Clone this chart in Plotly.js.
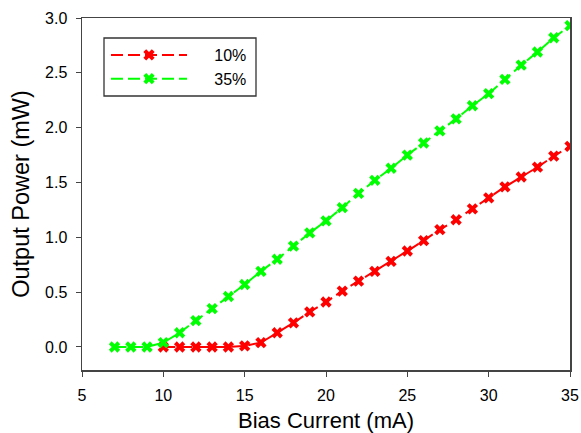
<!DOCTYPE html>
<html>
<head>
<meta charset="utf-8">
<script src="https://cdn.plot.ly/plotly-3.0.1.min.js"></script>
<style>html,body{margin:0;padding:0;background:#fff;}#chart{width:581px;height:433px;}</style>
</head>
<body>
<div id="chart"></div>
<script>
const currentLow = [10,11,12,13,14,15,16,17,18,19,20,21,22,23,24,25,26,27,28,29,30,31,32,33,34,35];
const power10 = [0.0,0.0,0.0,0.0,0.0,0.01,0.04,0.13,0.22,0.32,0.41,0.51,0.60,0.69,0.78,0.875,0.97,1.07,1.16,1.26,1.36,1.46,1.55,1.64,1.74,1.83];
const currentHigh = [7,8,9,10,11,12,13,14,15,16,17,18,19,20,21,22,23,24,25,26,27,28,29,30,31,32,33,34,35];
const power35 = [0.0,0.0,0.0,0.04,0.13,0.24,0.35,0.46,0.57,0.69,0.80,0.92,1.04,1.15,1.27,1.40,1.52,1.63,1.75,1.86,1.97,2.08,2.20,2.31,2.44,2.57,2.69,2.82,2.93];
const seriesNames = ['10%','35%'];

const FONT = 'Liberation Sans, Arial, sans-serif';
const pad = '\u00a0'.repeat(5);
const traces = [
  {x: currentLow, y: power10, name: pad + seriesNames[0], type:'scatter', mode:'lines+markers',
   line:{color:'#ff0000', width:2, dash:'12px,5px'}, marker:{symbol:'x', size:10, color:'#ff0000'}},
  {x: currentHigh, y: power35, name: pad + seriesNames[1], type:'scatter', mode:'lines+markers',
   line:{color:'#00ff00', width:2, dash:'12px,5px'}, marker:{symbol:'x', size:10, color:'#00ff00'}}
];
const axisFont = {family:FONT, size:16, color:'#000'};
const W = 581, H = 433, L = 82, R = 11, T = 18, B = 63;
const pw = W - L - R, ph = H - T - B;
const layout = {
  width:W, height:H,
  margin:{l:L, r:R, t:T, b:B},
  paper_bgcolor:'#fff', plot_bgcolor:'#fff',
  showlegend:true,
  legend:{x:(106-L)/pw, y:(H-B-38)/ph, xanchor:'left', yanchor:'top', borderwidth:0,
    bgcolor:'rgba(0,0,0,0)', font:{family:FONT, size:16, color:'#000'},
    itemwidth:76, tracegroupgap:0},
  shapes:[{type:'rect', xref:'paper', yref:'paper', x0:(104-L)/pw, x1:(256-L)/pw, y0:(H-B-96)/ph, y1:(H-B-38)/ph,
    line:{color:'#333', width:1.3}, fillcolor:'rgba(0,0,0,0)', layer:'below'}],
  xaxis:{range:[5,35], dtick:5, tick0:5, showgrid:false, zeroline:false, showline:true, mirror:true,
    linecolor:'#444', linewidth:1.5, ticks:'outside', ticklen:5, tickcolor:'#444', tickfont:axisFont, ticklabelstandoff:5,
    title:{text:'Bias Current (mA)', font:{family:FONT, size:22, color:'#000'}, standoff:10}},
  yaxis:{range:[-0.21,3.0], dtick:0.5, tick0:0, tickformat:'.1f', showgrid:false, zeroline:false, showline:true, mirror:true,
    linecolor:'#444', linewidth:1.5, ticks:'outside', ticklen:5, tickcolor:'#444', tickfont:axisFont, ticklabelstandoff:5,
    title:{text:'Output Power (mW)', font:{family:FONT, size:23.5, color:'#000'}, standoff:9}}
};
Plotly.newPlot('chart', traces, layout, {displayModeBar:false, staticPlot:true});
</script>
</body>
</html>
